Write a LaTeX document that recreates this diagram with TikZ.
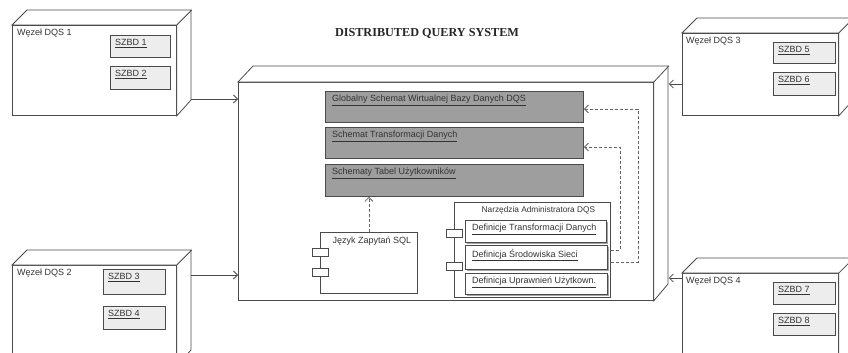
\documentclass[tikz,border=0pt]{standalone}
\usepackage{fontspec}
\setmainfont{Liberation Sans}
\newfontfamily\titlefont{Liberation Serif}
\usetikzlibrary{arrows.meta,shadows}
\definecolor{ln}{HTML}{4A4A4A}
\definecolor{gbox}{HTML}{9E9E9E}
\definecolor{lbox}{HTML}{EDEDED}
\tikzset{
 edge/.style={draw=ln, line width=0.8pt},
 face/.style={edge, fill=white, inner sep=0pt, anchor=north west},
 grayrect/.style={draw=ln, line width=0.9pt, fill=gbox, inner sep=0pt, anchor=north west,
   drop shadow={shadow xshift=0.8pt, shadow yshift=-0.8pt, fill=gray, opacity=0.6}},
 szbd/.style={draw=ln, line width=0.8pt, fill=lbox, inner sep=0pt, anchor=north west,
   drop shadow={shadow xshift=1pt, shadow yshift=-1pt, fill=gray, opacity=0.6}},
 defbox/.style={draw=ln, line width=0.8pt, fill=white, inner sep=0pt, anchor=north west,
   drop shadow={shadow xshift=1.2pt, shadow yshift=-1.2pt, fill=gray, opacity=0.7}},
 lbl/.style={font=\fontsize{9}{10}\selectfont, text=black!80, inner sep=0pt, anchor=north west},
 nav/.style={edge, -{Straight Barb[length=4pt,width=8pt]}},
 dep/.style={draw=ln!85, line width=0.8pt, dash pattern=on 3pt off 2pt, -{Straight Barb[length=4pt,width=8pt]}},
 port/.style={draw=ln, fill=white, line width=0.7pt, inner sep=0pt, anchor=north west, minimum width=16pt, minimum height=8pt},
}
\begin{document}
\begin{tikzpicture}[x=1pt,y=-1pt]
\useasboundingbox (0,0) rectangle (848,353);
\clip (0,0) rectangle (848,353);
\fill[white] (0,0) rectangle (848,353);

\node[font=\titlefont\bfseries\fontsize{12.2}{13}\selectfont, text=black!85] (title) at (427,33) {DISTRIBUTED QUERY SYSTEM};

% ---------- Node 1
\node[face, minimum width=164pt, minimum height=90pt] (n1) at (12,25) {};
\draw[edge, fill=white] (n1.north west) -- ++(15,-15) -- ++(164,0) -- ++(0,90) -- (n1.south east) -- (n1.north east) -- cycle;
\draw[edge] (n1.north east) -- ++(15,-15);
\node[lbl] (n1l) at (17,29) {Węzeł DQS 1};
\node[szbd, minimum width=60pt, minimum height=22pt] (s1) at (110,35) {};
\node[lbl] (s1l) at ([xshift=5pt,yshift=-4pt]s1.north west) {\underline{SZBD 1}};
\node[szbd, minimum width=60pt, minimum height=23pt] (s2) at (110,66) {};
\node[lbl] (s2l) at ([xshift=5pt,yshift=-4pt]s2.north west) {\underline{SZBD 2}};

% ---------- Node 2
\node[face, minimum width=164pt, minimum height=100pt] (n2) at (12,265) {};
\draw[edge, fill=white] (n2.north west) -- ++(15,-15) -- ++(164,0) -- ++(0,100) -- (n2.south east) -- (n2.north east) -- cycle;
\draw[edge] (n2.north east) -- ++(15,-15);
\node[lbl] (n2l) at (17,269) {Węzeł DQS 2};
\node[szbd, minimum width=62pt, minimum height=25pt] (s3) at (103,269) {};
\node[lbl] (s3l) at ([xshift=5pt,yshift=-4pt]s3.north west) {\underline{SZBD 3}};
\node[szbd, minimum width=62pt, minimum height=23pt] (s4) at (103,306) {};
\node[lbl] (s4l) at ([xshift=5pt,yshift=-4pt]s4.north west) {\underline{SZBD 4}};

% ---------- Node 3
\node[face, minimum width=156pt, minimum height=82pt] (n3) at (682,33) {};
\draw[edge, fill=white] (n3.north west) -- ++(15,-15) -- ++(156,0) -- ++(0,82) -- (n3.south east) -- (n3.north east) -- cycle;
\draw[edge] (n3.north east) -- ++(15,-15);
\node[lbl] (n3l) at (686,37) {Węzeł DQS 3};
\node[szbd, minimum width=62pt, minimum height=21pt] (s5) at (773,42) {};
\node[lbl] (s5l) at ([xshift=5pt,yshift=-4pt]s5.north west) {\underline{SZBD 5}};
\node[szbd, minimum width=62pt, minimum height=23pt] (s6) at (773,72) {};
\node[lbl] (s6l) at ([xshift=5pt,yshift=-4pt]s6.north west) {\underline{SZBD 6}};

% ---------- Node 4
\node[face, minimum width=156pt, minimum height=100pt] (n4) at (682,273) {};
\draw[edge, fill=white] (n4.north west) -- ++(15,-15) -- ++(156,0) -- ++(0,100) -- (n4.south east) -- (n4.north east) -- cycle;
\draw[edge] (n4.north east) -- ++(15,-15);
\node[lbl] (n4l) at (686,277) {Węzeł DQS 4};
\node[szbd, minimum width=62pt, minimum height=22pt] (s7) at (773,282) {};
\node[lbl] (s7l) at ([xshift=5pt,yshift=-4pt]s7.north west) {\underline{SZBD 7}};
\node[szbd, minimum width=62pt, minimum height=22pt] (s8) at (773,313) {};
\node[lbl] (s8l) at ([xshift=5pt,yshift=-4pt]s8.north west) {\underline{SZBD 8}};

% ---------- Main box
\node[face, minimum width=415pt, minimum height=218pt] (m) at (238,82) {};
\draw[edge, fill=white] (m.north west) -- ++(15,-16) -- ++(415,0) -- ++(0,218) -- (m.south east) -- (m.north east) -- cycle;
\draw[edge] (m.north east) -- ++(15,-16);
\coordinate (mbr) at ([xshift=15pt]m.east);

% schema boxes
\node[grayrect, minimum width=258pt, minimum height=31pt] (g1) at (325,91) {};
\node[lbl] (g1l) at ([xshift=7pt,yshift=-4pt]g1.north west) {\underline{Globalny Schemat Wirtualnej Bazy Danych DQS}};
\node[grayrect, minimum width=258pt, minimum height=31pt] (g2) at (325,127) {};
\node[lbl] (g2l) at ([xshift=7pt,yshift=-4pt]g2.north west) {\underline{Schemat Transformacji Danych}};
\node[grayrect, minimum width=258pt, minimum height=32pt] (g3) at (325,164) {};
\node[lbl] (g3l) at ([xshift=7pt,yshift=-4pt]g3.north west) {\underline{Schematy Tabel Użytkowników}};

% SQL component
\node[face, minimum width=97pt, minimum height=61pt] (sql) at (320,232) {};
\node[port] (sp1) at (312,248) {};
\node[port] (sp2) at (312,268) {};
\node[lbl, anchor=north] (sqll) at ([xshift=3pt,yshift=-5pt]sql.north) {Język Zapytań SQL};
\draw[dep] (sql.north) -- (sql.north |- g3.south);

% Admin tools
\node[face, minimum width=156pt, minimum height=95pt] (nz) at (454,202) {};
\node[port] (np1) at (446,229) {};
\node[port] (np2) at (446,262) {};
\node[lbl, anchor=north, font=\fontsize{8.3}{9}\selectfont] (nzl) at ([xshift=6pt,yshift=-4pt]nz.north) {Narzędzia Administratora DQS};
\node[defbox, minimum width=141pt, minimum height=22pt] (d1) at (465,220) {};
\node[lbl] (d1l) at ([xshift=7pt,yshift=-4pt]d1.north west) {\underline{Definicje Transformacji Danych}};
\node[defbox, minimum width=142pt, minimum height=24pt] (d2) at (465,245) {};
\node[lbl] (d2l) at ([xshift=7pt,yshift=-4pt]d2.north west) {\underline{Definicja Środowiska Sieci}};
\node[defbox, minimum width=142pt, minimum height=21pt] (d3) at (465,273) {};
\node[lbl] (d3l) at ([xshift=7pt,yshift=-4pt]d3.north west) {\underline{Definicja Uprawnień Użytkown.}};

% dependency arrows
\coordinate (c1) at (638,109);
\coordinate (c2) at (620,147);
\draw[dep] (nz.east |- 0,262) -| (c1) -- (g1.east |- c1);
\draw[dep] (nz.east |- 0,250) -| (c2) -- (g2.east |- c2);

% navigation arrows
\coordinate (a1) at (191,99);
\coordinate (a2) at (191,275);
\coordinate (a3) at (682,84);
\coordinate (a4) at (682,278);
\draw[nav] (a1) -- (m.west |- a1);
\draw[nav] (a2) -- (m.west |- a2);
\draw[nav] (n3.west |- a3) -- (mbr |- a3);
\draw[nav] (n4.west |- a4) -- (mbr |- a4);
\end{tikzpicture}
\end{document}
